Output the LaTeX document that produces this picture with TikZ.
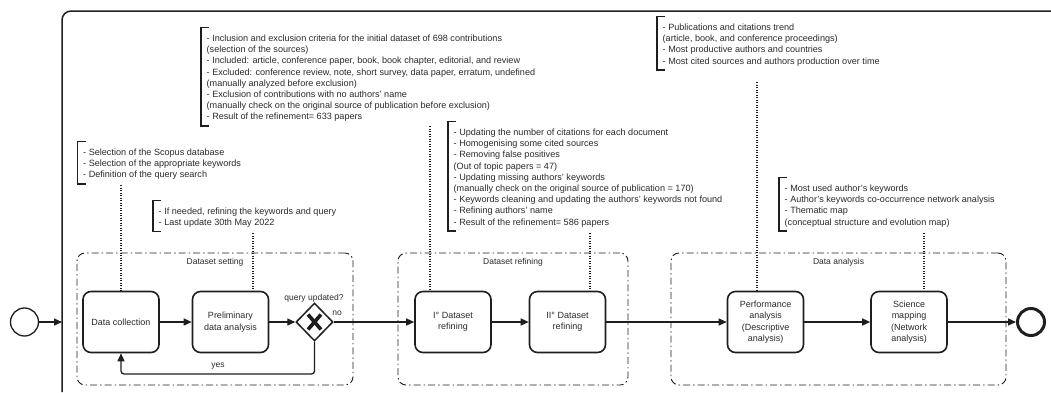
\documentclass[tikz,border=0pt]{standalone}
\usepackage{fontspec}
\setmainfont{Liberation Sans}
\usetikzlibrary{arrows.meta,shapes.geometric}
\definecolor{ink}{HTML}{1E1E1E}
\definecolor{txt}{HTML}{2A2A2A}
\tikzset{
 task/.style={draw=ink, line width=1.6pt, rounded corners=8pt, minimum width=76pt, minimum height=61pt, inner sep=1pt, align=center, font=\fontsize{9}{11.4}\selectfont, text=txt},
 flow/.style={draw=ink, line width=1.3pt, -{Triangle[length=8pt,width=7pt]}},
 grp/.style={draw=ink, line width=0.9pt, rounded corners=8pt, dash pattern=on 7pt off 3pt on 1.5pt off 3pt},
 annot/.style={anchor=north west, inner sep=0pt, align=left, font=\fontsize{9.1}{11.2}\selectfont, text=txt},
 bracket/.style={draw=ink, line width=1.4pt},
 assoc/.style={draw=ink, line width=1.1pt, dash pattern=on 1pt off 1.5pt},
 lbl/.style={font=\fontsize{8.5}{10}\selectfont, text=txt, inner sep=0pt},
}
\newcommand{\annbr}[1]{\draw[bracket] ([shift={(2.5,-6)}]#1.north west) -- ([shift={(-5.5,-6)}]#1.north west) -- ([shift={(-5.5,2.3)}]#1.south west) -- ([shift={(2.5,2.3)}]#1.south west);}
\begin{document}
\begin{tikzpicture}[x=1pt,y=-1pt]
\useasboundingbox (0,0) rectangle (1051,392);
% pool frame
\draw[ink, line width=1.5pt, rounded corners=9pt] (62,392) -- (62,11) -- (1051,11);
% groups
\node[grp, minimum width=276pt, minimum height=132pt] (g1) at (215,319) {};
\node[grp, minimum width=230pt, minimum height=132pt] (g2) at (513,319) {};
\node[grp, minimum width=335pt, minimum height=132pt] (g3) at (838.5,319) {};
\node[lbl] (g1l) at ([shift={(0,10)}]g1.north) {Dataset setting};
\node[lbl] (g2l) at ([shift={(0,10)}]g2.north) {Dataset refining};
\node[lbl] (g3l) at ([shift={(0,10)}]g3.north) {Data analysis};
% events
\node[circle, draw=ink, line width=1.3pt, minimum size=28pt, inner sep=0pt] (start) at (24.5,322) {};
\coordinate (pl) at (62,322);
\node[circle, draw=ink, line width=3pt, minimum size=27pt, inner sep=0pt] (end) at (1031,322) {};
% tasks
\node[task] (dc) at (121,322) {Data collection};
\node[task] (pda) at (230.5,322) {Preliminary\\data analysis};
\node[diamond, draw=ink, line width=1.5pt, aspect=1, minimum width=37pt, minimum height=38pt, inner sep=0pt] (gw) at (314.5,322) {};
\draw[ink, line width=3.6pt] ([shift={(-6.5,-7.5)}]gw.center) -- ([shift={(6.5,7.5)}]gw.center);
\draw[ink, line width=3.6pt] ([shift={(-6.5,7.5)}]gw.center) -- ([shift={(6.5,-7.5)}]gw.center);
\node[task] (r1) at (453,322) {I° Dataset\\refining};
\node[task] (r2) at (567.5,322) {II° Dataset\\refining};
\node[task] (perf) at (765.5,322) {Performance\\analysis\\(Descriptive\\analysis)};
\node[task] (sci) at (909,322) {Science\\mapping\\(Network\\analysis)};
% labels
\node[lbl] (qu) at (314,298) {query updated?};
\node[lbl] (no) at (337,313) {no};
\node[lbl] (yes) at (218,366) {yes};
% flows
\draw[flow] (start) -- (pl);
\draw[flow] (dc) -- (pda);
\draw[flow] (pda) -- (gw);
\draw[flow] (gw) -- (r1);
\draw[flow] (r1) -- (r2);
\draw[flow] (r2) -- (perf);
\draw[flow] (perf) -- (sci);
\draw[flow] (sci) -- (end);
\coordinate (ly) at (0,374);
\draw[flow, rounded corners=3pt] (gw.south) |- (dc.south |- ly) -- (dc.south);
% annotations
\node[annot] (a1) at (83,147.5) {\strut- Selection of the Scopus database\\- Selection of the appropriate keywords\\- Definition of the query search\strut};
\node[annot] (a2) at (158.5,206.5) {\strut- If needed, refining the keywords and query\\- Last update 30th May 2022\strut};
\node[annot] (a3) at (206.5,33.5) {\strut- Inclusion and exclusion criteria for the initial dataset of 698 contributions\\(selection of the sources)\\- Included: article, conference paper, book, book chapter, editorial, and review\\- Excluded: conference review, note, short survey, data paper, erratum, undefined\\(manually analyzed before exclusion)\\- Exclusion of contributions with no authors' name\\(manually check on the original source of publication before exclusion)\\- Result of the refinement= 633 papers\strut};
\node[annot] (a4) at (453.5,127.5) {\strut- Updating the number of citations for each document\\- Homogenising some cited sources\\- Removing false positives\\(Out of topic papers = 47)\\- Updating missing authors' keywords\\(manually check on the original source of publication = 170)\\- Keywords cleaning and updating the authors' keywords not found\\- Refining authors' name\\- Result of the refinement= 586 papers\strut};
\node[annot] (a5) at (662.5,22.5) {\strut- Publications and citations trend\\(article, book, and conference proceedings)\\- Most productive authors and countries\\- Most cited sources and authors production over time\strut};
\node[annot] (a6) at (784.5,183.5) {\strut- Most used author's keywords\\- Author's keywords co-occurrence network analysis\\- Thematic map\\(conceptual structure and evolution map)\strut};
\annbr{a1}\annbr{a2}\annbr{a3}\annbr{a4}\annbr{a5}\annbr{a6}
% associations
\coordinate (s1) at (121,185);
\coordinate (s2) at (253,233);
\coordinate (s3) at (430,126);
\coordinate (s4) at (590,233);
\coordinate (s5) at (757,82);
\coordinate (s6) at (924,233);
\draw[assoc] (s1) -- (s1 |- dc.north);
\draw[assoc] (s2) -- (s2 |- pda.north);
\draw[assoc] (s3) -- (s3 |- r1.north);
\draw[assoc] (s4) -- (s4 |- r2.north);
\draw[assoc] (s5) -- (s5 |- perf.north);
\draw[assoc] (s6) -- (s6 |- sci.north);
\end{tikzpicture}
\end{document}
